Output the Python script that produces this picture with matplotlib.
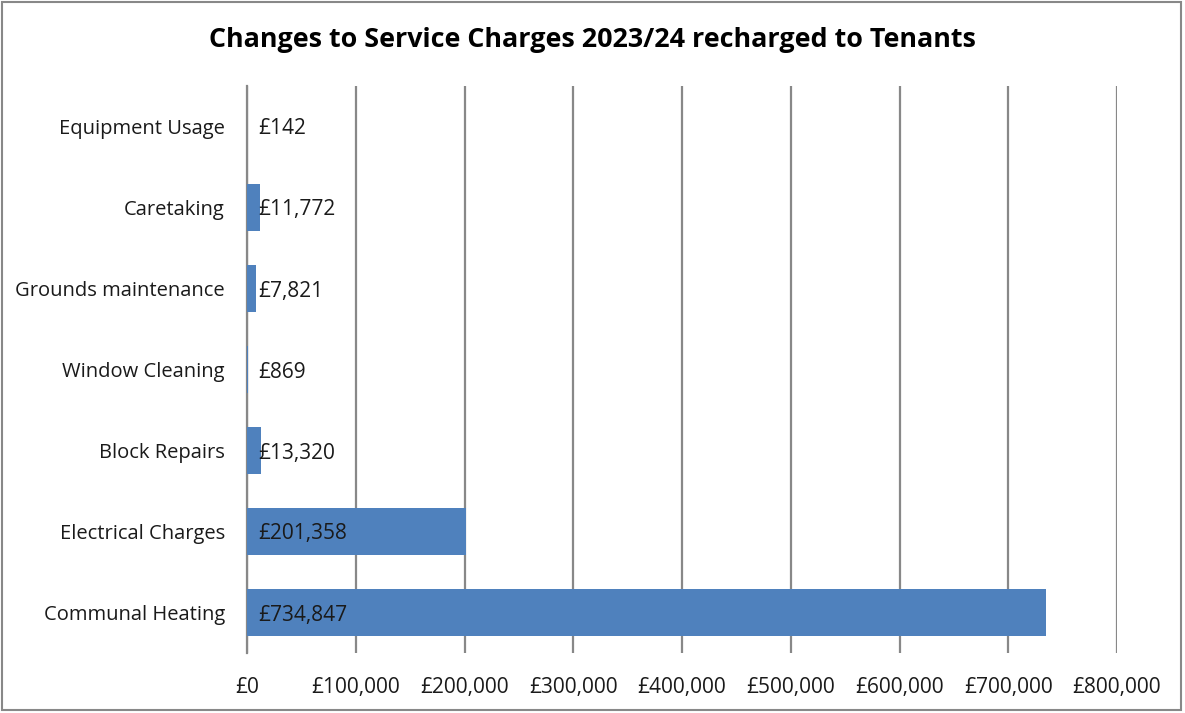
import matplotlib.pyplot as plt
from matplotlib.patches import Rectangle

categories = ['Communal Heating', 'Electrical Charges', 'Block Repairs', 'Window Cleaning',
              'Grounds maintenance', 'Caretaking', 'Equipment Usage']
values = [734847, 201358, 13320, 869, 7821, 11772, 142]
ticks = [0, 100000, 200000, 300000, 400000, 500000, 600000, 700000, 800000]

plt.rcParams['font.family'] = ['Open Sans', 'DejaVu Sans']

fig = plt.figure(figsize=(11.85, 7.13), dpi=100)
ax = fig.add_axes([247 / 1185, 1 - 653 / 713, 870 / 1185, 567 / 713])

ypos = range(len(categories))
ax.barh(ypos, values, height=0.57, color='#4F81BD', zorder=3)
for y, v in zip(ypos, values):
    ax.annotate(f'£{v:,}', (0, y), xytext=(8, 0), textcoords='offset points',
                va='center_baseline', ha='left', fontsize=15, color='#1a1a1a', zorder=4)

ax.set_xlim(0, 800000)
ax.set_ylim(-0.5, len(categories) - 0.5)
ax.set_xticks(ticks)
ax.set_xticklabels([f'£{t:,}' for t in ticks], fontsize=15)
ax.set_yticks(list(ypos))
ax.set_yticklabels(categories, fontsize=14.5)
ax.tick_params(axis='both', length=0, colors='#1a1a1a')
ax.tick_params(axis='x', pad=17)
ax.tick_params(axis='y', pad=16)
ax.grid(axis='x', color='#888888', linewidth=1.6, zorder=0)
for s in ['top', 'right', 'bottom']:
    ax.spines[s].set_visible(False)
ax.spines['left'].set_color('#888888')
ax.spines['left'].set_linewidth(1.6)

fig.text(0.5, 1 - 40 / 713, 'Changes to Service Charges 2023/24 recharged to Tenants',
         ha='center', va='center', fontsize=19.4, fontweight='bold')
fig.patches.append(Rectangle((0.002, 0.004), 0.995, 0.993, transform=fig.transFigure,
                             fill=False, edgecolor='#888888', linewidth=1.5))

fig.savefig('out.png', dpi=100)
